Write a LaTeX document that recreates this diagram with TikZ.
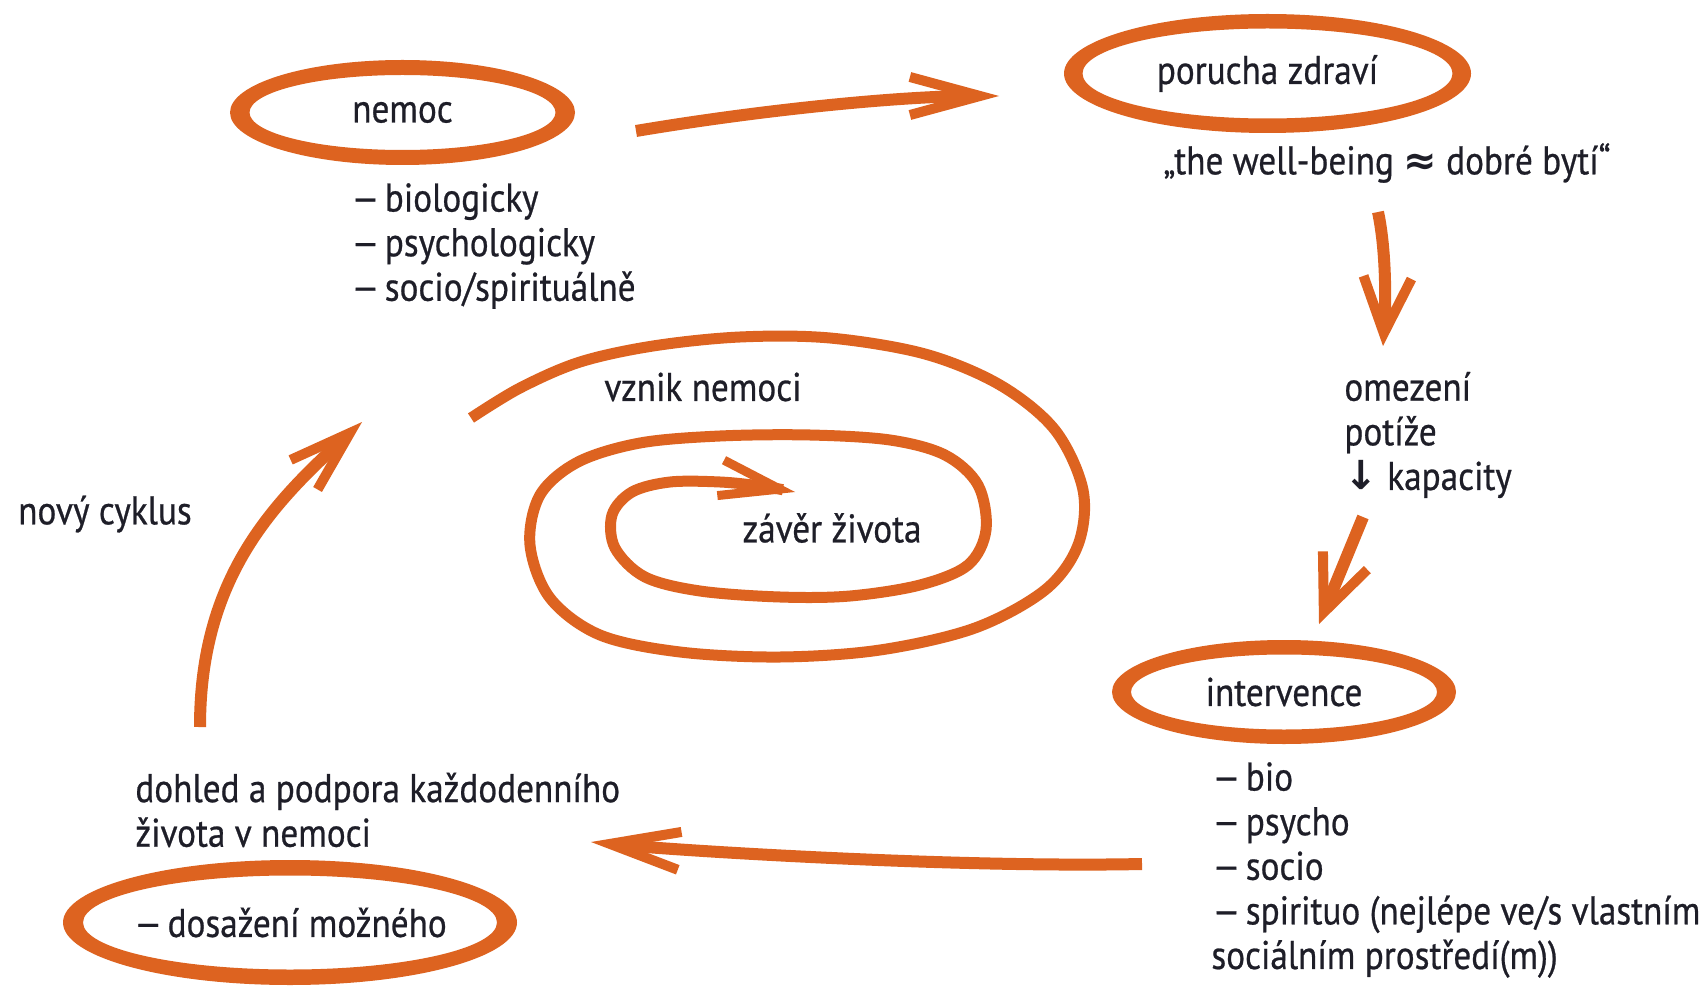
\documentclass[tikz,border=0pt]{standalone}
\usepackage{graphicx}
\usepackage{fontspec}
\setmainfont{PT Sans}[FakeStretch=0.88,FakeBold=0.6]
\newfontfamily\symfont{DejaVu Sans Bold}
\usetikzlibrary{shapes.geometric,arrows.meta}
\definecolor{orng}{RGB}{221,99,32}
\definecolor{ink}{RGB}{30,30,40}
\newcommand\dlabelfont{\fontsize{20pt}{22.3pt}\selectfont}
\newcommand\dsh{\scalebox{1.3}[1]{–}\hspace{-2.6pt}}
\tikzset{
  ell/.style={ellipse, inner sep=0pt, text=ink, font=\dlabelfont},
  ring/.style={fill=orng, even odd rule},
  txt/.style={text=ink, font=\dlabelfont, inner sep=0pt, align=left},
  flow/.style={draw=orng, line width=6pt},
  tipA/.style={-{Straight Barb[length=35pt,width=19pt,line width=5pt]}},
  tipB/.style={-{Straight Barb[length=28pt,width=24pt,line width=5pt]}},
  tipC/.style={-{Straight Barb[length=31pt,width=20pt,line width=5pt]}},
  tipS/.style={-{Straight Barb[length=30pt,width=18pt,line width=4.5pt]}},
  spiralline/.style={draw=orng, line width=5.5pt},
}
\begin{document}
\begin{tikzpicture}[x=0.5pt,y=-0.5pt]
\fill[white] (0,0) rectangle (1706,989);
\useasboundingbox (0,0) rectangle (1706,989);

% circled nodes
\node[ell, minimum width=164.5pt, minimum height=44.5pt] (nemoc) at (402.5,112.5) {nemoc};
\fill[ring] (nemoc.center) ellipse [x radius=172.5, y radius=52.5]
            (nemoc.center) ellipse [x radius=153, y radius=37.5];
\node[ell, minimum width=195.5pt, minimum height=51.5pt] (porucha) at (1267.5,73.5) {porucha zdraví};
\fill[ring] (porucha.center) ellipse [x radius=203.5, y radius=59.5]
            (porucha.center) ellipse [x radius=185, y radius=45];
\node[ell, minimum width=164pt, minimum height=44pt] (intervence) at (1284,692) {intervence};
\fill[ring] (intervence.center) ellipse [x radius=172, y radius=52]
            (intervence.center) ellipse [x radius=153, y radius=37.5];
\node[ell, minimum width=219pt, minimum height=54.5pt] (dosazeni) at (290,922.5) {\dsh{} dosažení možného};
\fill[ring] (dosazeni.center) ellipse [x radius=227, y radius=62.5]
            (dosazeni.center) ellipse [x radius=207, y radius=47];

% plain texts
\node[txt, anchor=west] (nemoclist) at (350,246) {\dsh{} biologicky\\\dsh{} psychologicky\\\dsh{} socio/spirituálně};
\node[txt] (wellbeing) at (1387,163) {„the well-being {\symfont≈} dobré bytí“};
\node[txt, anchor=west] (omezeni) at (1344,435) {omezení\\potíže\\{\symfont↓} kapacity};
\node[txt, anchor=west] (intlist) at (1211,870) {\dsh{} bio\\\dsh{} psycho\\\dsh{} socio\\\dsh{} spirituo (nejlépe ve/s vlastním\\sociálním prostředí(m))};
\node[txt, anchor=west] (dohled) at (135,810) {dohled a podpora každodenního\\života v nemoci};
\node[txt] (novy) at (105,514) {nový cyklus};
\node[txt] (vznik) at (703,387) {vznik nemoci};
\node[txt] (zaver) at (832,528) {závěr života};

% connectors
\coordinate (a1s) at (636,131); \coordinate (a1e) at (999,96);
\draw[flow, tipA] (a1s) .. controls (760,110) and (900,96) .. (a1e);
\coordinate (a2s) at (1378,212); \coordinate (a2e) at (1383,346);
\draw[flow, tipB] (a2s) .. controls (1386,250) and (1386,300) .. (a2e);
\coordinate (a3s) at (1363,517); \coordinate (a3e) at (1319,624);
\draw[flow, tipB] (a3s) -- (a3e);
\coordinate (a4s) at (1142,864); \coordinate (a4e) at (591,842);
\draw[flow, tipA] (a4s) .. controls (950,868) and (671,850) .. (a4e);
\coordinate (a5s) at (200,727); \coordinate (a5e) at (362,422);
\draw[flow, tipC] (a5s) .. controls (200,577) and (273,503) .. (a5e);

% spiral
\draw[spiralline, tipS] plot[smooth, tension=0.55] coordinates {
 (471,418) (520,388) (580,362) (653,346) (740,337) (830,338) (925,354)
 (1000,385) (1055,430) (1083,490) (1078,545) (1045,590) (975,628)
 (880,650) (780,657) (680,652) (600,635) (550,598) (530,545) (540,495)
 (578,462) (640,443) (720,436) (810,435) (890,440) (945,455) (978,485)
 (986,530) (968,565) (920,585) (850,596) (780,597) (700,591) (645,577)
 (615,548) (612,515) (632,492) (670,482) (720,482) (760,486) (795,492)};
\end{tikzpicture}
\end{document}
